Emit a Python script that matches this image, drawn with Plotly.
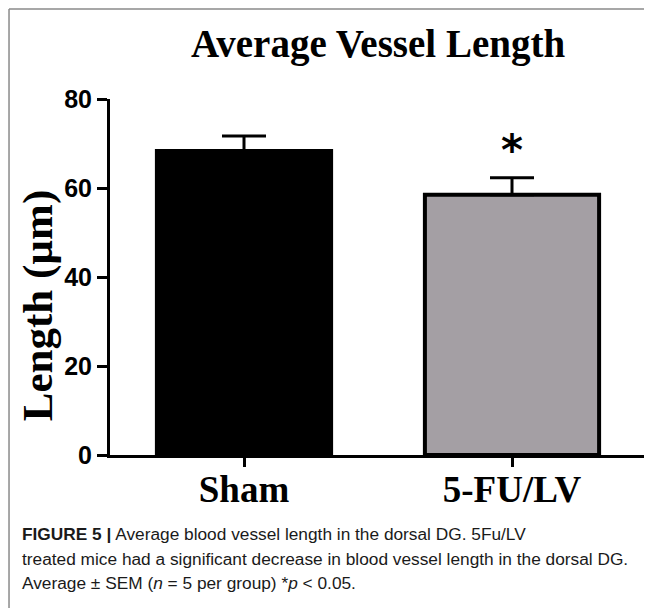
import plotly.graph_objects as go

groups = ['Sham', '5-FU/LV']
mean_length = [68.3, 58.5]
sem_length = [3.4, 3.8]
bar_colors = ['#000000', '#a49fa4']
sig_marks = ['', '*']
y_ticks = [0, 20, 40, 60, 80]

title_text = 'Average Vessel Length'
y_title = 'Length (µm)'
caption_lines = [
    '<b>FIGURE 5 |</b> Average blood vessel length in the dorsal DG. 5Fu/LV',
    'treated mice had a significant decrease in blood vessel length in the dorsal DG.',
    'Average ± SEM (<i>n</i> = 5 per group) *<i>p</i> &lt; 0.05.',
]

serif = 'Liberation Serif'
sans = 'Liberation Sans'

fig = go.Figure()
fig.add_trace(go.Bar(
    x=groups,
    y=mean_length,
    width=0.65,
    marker=dict(color=bar_colors, line=dict(color='black', width=4)),
    error_y=dict(type='data', array=sem_length, arrayminus=[0] * len(groups),
                 symmetric=False, color='black', thickness=3, width=22),
    showlegend=False,
    hoverinfo='skip',
))

# significance marks above the error bars
for g, m, s, mark in zip(groups, mean_length, sem_length, sig_marks):
    if mark:
        fig.add_annotation(x=g, y=m + s, text=f'<b>{mark}</b>', showarrow=False,
                           yanchor='bottom', yshift=1,
                           font=dict(family='DejaVu Sans', size=42, color='black'))

fig.add_annotation(xref='paper', yref='paper', x=0.5, y=1.154, text=f'<b>{title_text}</b>',
                   showarrow=False, xanchor='center', yanchor='middle',
                   font=dict(family=serif, size=39, color='black'))
fig.add_annotation(xref='paper', yref='paper', x=-0.134, y=0.4185, text=f'<b>{y_title}</b>',
                   showarrow=False, textangle=-90, xanchor='center', yanchor='middle',
                   font=dict(family=serif, size=43, color='black'))

cap_y = [-0.222, -0.292, -0.360]
for line, cy in zip(caption_lines, cap_y):
    fig.add_annotation(xref='paper', yref='paper', x=-0.168, y=cy, text=line,
                       showarrow=False, xanchor='left', yanchor='middle', align='left',
                       font=dict(family=sans, size=17.3, color='#1a1a1a'))

# page frame: top and left edges only
frame = dict(color='#8a8a8a', width=1.5)
fig.add_shape(type='line', xref='paper', yref='paper', x0=-0.1884, y0=1.2528, x1=1.02, y1=1.2528,
              line=frame)
fig.add_shape(type='line', xref='paper', yref='paper', x0=-0.1884, y0=1.2528, x1=-0.1884, y1=-0.45,
              line=frame)

fig.update_xaxes(
    showline=True, linecolor='black', linewidth=3,
    ticks='outside', ticklen=9, tickwidth=3, tickcolor='black',
    range=[-0.5, 1.5], showgrid=False, zeroline=False,
    ticklabelstandoff=-9,
    tickfont=dict(family=serif, size=37, color='black', weight='bold'),
)
fig.update_yaxes(
    showline=True, linecolor='black', linewidth=3,
    ticks='outside', ticklen=10, tickwidth=3, tickcolor='black',
    range=[0, 80], tickvals=y_ticks, showgrid=False, zeroline=False,
    tickfont=dict(family=sans, size=25, color='black', weight='bold'),
)
# page body has an 8px margin, so the figure is 8px smaller each way
fig.update_layout(
    width=644, height=600,
    margin=dict(l=102, r=6, t=91, b=153),
    plot_bgcolor='white', paper_bgcolor='white',
)
fig.write_html('out.html')
